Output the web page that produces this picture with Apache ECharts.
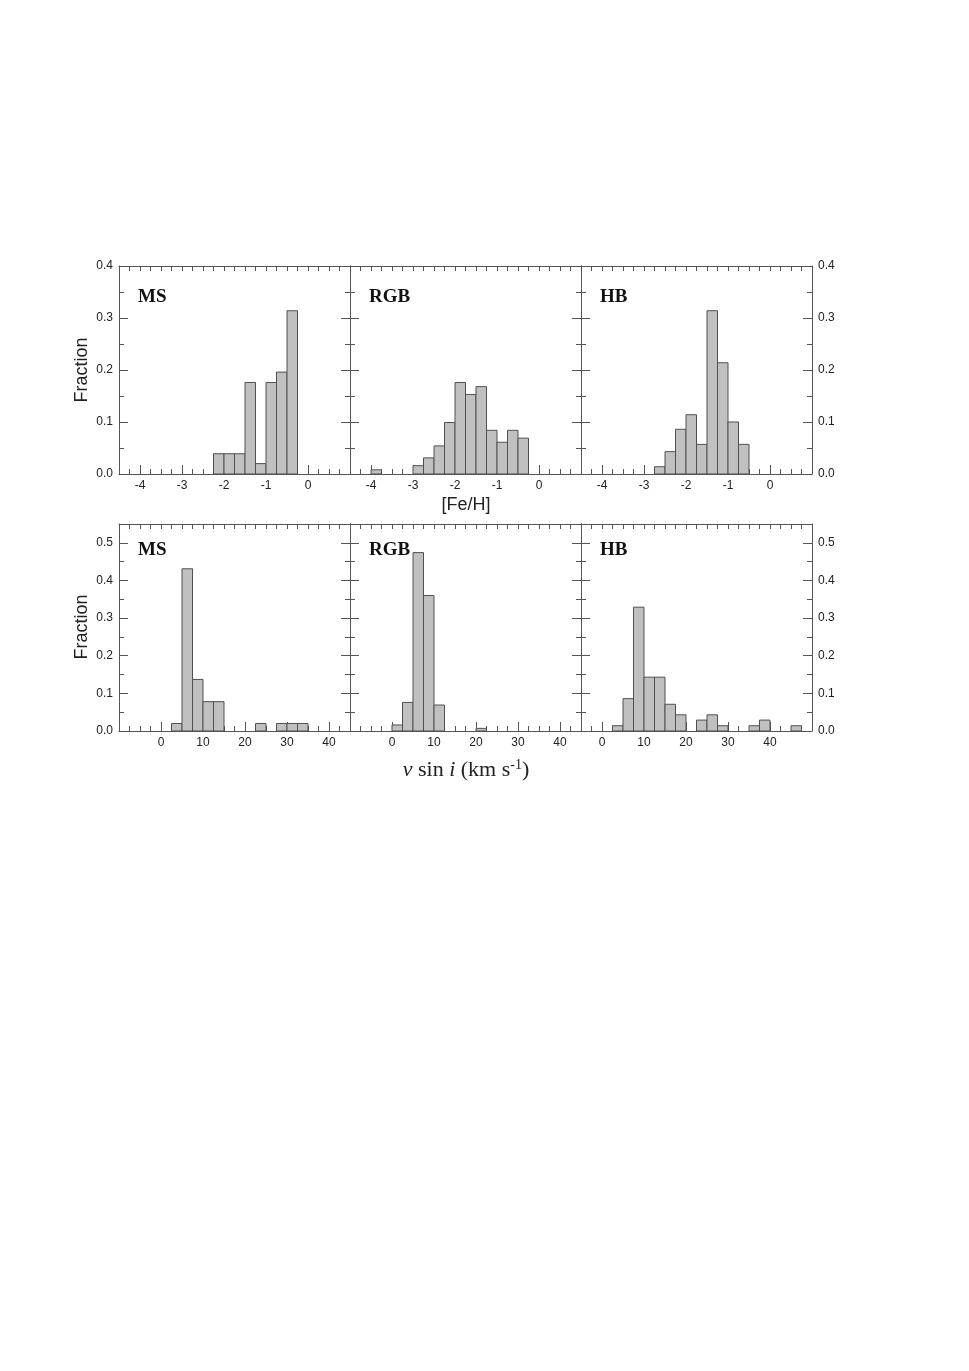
<!DOCTYPE html>
<html>
<head>
<meta charset="utf-8">
<script src="https://cdn.jsdelivr.net/npm/echarts@6/dist/echarts.min.js"></script>
<style>
  html, body { margin: 0; background: #fff; }
  #main { width: 969px; height: 1371px; }
</style>
</head>
<body>
<div id="main"></div>
<script>
// bin widths
const feBin = 0.25;
const vBin = 2.5;

// [Fe/H] histograms (left edge of each bin, fraction)
const feMSStart = [-2.25, -2.0, -1.75, -1.5, -1.25, -1.0, -0.75, -0.5];
const feMS = [0.039, 0.039, 0.039, 0.176, 0.020, 0.176, 0.196, 0.314];
const feRGBStart = [-4.0, -3.0, -2.75, -2.5, -2.25, -2.0, -1.75, -1.5, -1.25, -1.0, -0.75, -0.5];
const feRGB = [0.008, 0.016, 0.031, 0.054, 0.099, 0.176, 0.153, 0.168, 0.084, 0.061, 0.084, 0.069];
const feHBStart = [-2.75, -2.5, -2.25, -2.0, -1.75, -1.5, -1.25, -1.0, -0.75];
const feHB = [0.014, 0.043, 0.086, 0.114, 0.057, 0.314, 0.214, 0.100, 0.057];

// v sin i histograms
const vMSStart = [2.5, 5, 7.5, 10, 12.5, 22.5, 27.5, 30, 32.5];
const vMS = [0.020, 0.431, 0.137, 0.078, 0.078, 0.020, 0.020, 0.020, 0.020];
const vRGBStart = [0, 2.5, 5, 7.5, 10, 20];
const vRGB = [0.016, 0.076, 0.474, 0.360, 0.069, 0.007];
const vHBStart = [2.5, 5, 7.5, 10, 12.5, 15, 17.5, 22.5, 25, 27.5, 35, 37.5, 45];
const vHB = [0.014, 0.086, 0.329, 0.143, 0.143, 0.071, 0.043, 0.029, 0.043, 0.014, 0.014, 0.029, 0.014];

// tick labels
const feTickLabels = [-4, -3, -2, -1, 0];
const vTickLabels = [0, 10, 20, 30, 40];
const feFracLabels = [0, 0.1, 0.2, 0.3, 0.4];
const vFracLabels = [0, 0.1, 0.2, 0.3, 0.4, 0.5];

const lineCol = '#555';
const textCol = '#222';
const sans = 'Liberation Sans, Arial, sans-serif';

function steps(a, b, s) {
  let out = [];
  for (let v = a; v <= b + 1e-9; v += s) out.push(Math.round(v * 1000) / 1000);
  return out;
}

const panels = [
  { left: 119, top: 266, h: 208, xmin: -4.5, xmax: 1, ymax: 0.4, bin: feBin, starts: feMSStart, vals: feMS, xl: feTickLabels, yl: feFracLabels, xs: 0.25, name: 'MS' },
  { left: 350, top: 266, h: 208, xmin: -4.5, xmax: 1, ymax: 0.4, bin: feBin, starts: feRGBStart, vals: feRGB, xl: feTickLabels, yl: feFracLabels, xs: 0.25, name: 'RGB' },
  { left: 581, top: 266, h: 208, xmin: -4.5, xmax: 1, ymax: 0.4, bin: feBin, starts: feHBStart, vals: feHB, xl: feTickLabels, yl: feFracLabels, xs: 0.25, name: 'HB' },
  { left: 119, top: 524, h: 207, xmin: -10, xmax: 45, ymax: 0.55, bin: vBin, starts: vMSStart, vals: vMS, xl: vTickLabels, yl: vFracLabels, xs: 2.5, name: 'MS' },
  { left: 350, top: 524, h: 207, xmin: -10, xmax: 45, ymax: 0.55, bin: vBin, starts: vRGBStart, vals: vRGB, xl: vTickLabels, yl: vFracLabels, xs: 2.5, name: 'RGB' },
  { left: 581, top: 524, h: 207, xmin: -5, xmax: 50, ymax: 0.55, bin: vBin, starts: vHBStart, vals: vHB, xl: vTickLabels, yl: vFracLabels, xs: 2.5, name: 'HB' }
];

let grid = [], xAxis = [], yAxis = [], series = [], graphic = [];

panels.forEach((p, i) => {
  grid.push({ left: p.left, top: p.top, width: 231, height: p.h });
  const xMinor = steps(p.xmin + p.xs, p.xmax - p.xs / 2, p.xs);
  const yMinor = steps(0.05, p.ymax - 0.01, 0.05);
  const base = { type: 'value', gridIndex: i, min: p.xmin, max: p.xmax, splitLine: { show: false } };
  const lab = { color: textCol, fontFamily: sans, fontSize: 12 };

  // x axes: bottom (minor + labels), bottom (major), top
  xAxis.push(Object.assign({}, base, {
    position: 'bottom',
    axisLine: { show: true, onZero: false, lineStyle: { color: lineCol, width: 1 } },
    axisTick: { show: true, inside: true, length: 5, customValues: xMinor, lineStyle: { color: lineCol } },
    axisLabel: Object.assign({ show: true, customValues: p.xl, margin: 6, formatter: v => String(v) }, lab)
  }));
  xAxis.push(Object.assign({}, base, {
    position: 'bottom',
    axisLine: { show: false, onZero: false },
    axisTick: { show: true, inside: true, length: 9, customValues: p.xl, lineStyle: { color: lineCol } },
    axisLabel: { show: false }
  }));
  xAxis.push(Object.assign({}, base, {
    position: 'top',
    axisLine: { show: true, onZero: false, lineStyle: { color: lineCol, width: 1 } },
    axisTick: { show: true, inside: true, length: 5, customValues: xMinor, lineStyle: { color: lineCol } },
    axisLabel: { show: false }
  }));

  // y axes: left (minor), left (major), right (minor), right (major)
  const ybase = { type: 'value', gridIndex: i, min: 0, max: p.ymax, splitLine: { show: false } };
  const col = i % 3;
  ['left', 'right'].forEach(pos => {
    const showLab = (pos === 'left' && col === 0) || (pos === 'right' && col === 2);
    yAxis.push(Object.assign({}, ybase, {
      position: pos,
      axisLine: { show: true, onZero: false, lineStyle: { color: lineCol, width: 1 } },
      axisTick: { show: true, inside: true, length: 5, customValues: yMinor, lineStyle: { color: lineCol } },
      axisLabel: Object.assign({ show: showLab, customValues: p.yl, margin: 6, formatter: v => v.toFixed(1) }, lab)
    }));
    yAxis.push(Object.assign({}, ybase, {
      position: pos,
      axisLine: { show: false, onZero: false },
      axisTick: { show: true, inside: true, length: 9, customValues: p.yl, lineStyle: { color: lineCol } },
      axisLabel: { show: false }
    }));
  });

  series.push({
    type: 'custom',
    xAxisIndex: 3 * i,
    yAxisIndex: 4 * i,
    data: p.starts.map((s, k) => [s, s + p.bin, p.vals[k]]),
    renderItem: function (params, api) {
      const a = api.coord([api.value(0), api.value(2)]);
      const b = api.coord([api.value(1), 0]);
      return {
        type: 'rect',
        shape: { x: a[0], y: a[1], width: b[0] - a[0], height: b[1] - a[1] },
        style: { fill: '#c0c0c0', stroke: '#505050', lineWidth: 1 }
      };
    },
    silent: true
  });

  graphic.push({
    type: 'text', x: p.left + 19, y: p.top + (p.top < 400 ? 31 : 26),
    style: { text: p.name, font: 'bold 19px "Liberation Serif", "Times New Roman", serif', fill: '#111', align: 'left', verticalAlign: 'middle' }
  });
});

graphic.push(
  { type: 'text', x: 82, y: 370, rotation: Math.PI / 2,
    style: { text: 'Fraction', font: '18px ' + sans, fill: textCol, align: 'center', verticalAlign: 'middle' } },
  { type: 'text', x: 82, y: 627, rotation: Math.PI / 2,
    style: { text: 'Fraction', font: '18px ' + sans, fill: textCol, align: 'center', verticalAlign: 'middle' } },
  { type: 'text', x: 466, y: 505,
    style: { text: '[Fe/H]', font: '18px ' + sans, fill: textCol, align: 'center', verticalAlign: 'middle' } },
  { type: 'text', x: 466, y: 770,
    style: {
      text: '{it|v} sin {it|i} (km s{sup|-1})',
      font: '22px "Liberation Serif", "Times New Roman", serif', fill: textCol,
      align: 'center', verticalAlign: 'middle',
      rich: {
        it: { fontStyle: 'italic', fontSize: 22, fontFamily: 'Liberation Serif' },
        sup: { fontSize: 14, fontFamily: 'Liberation Serif', verticalAlign: 'top', padding: [0, 0, 10, 0] }
      }
    } }
);

const chart = echarts.init(document.getElementById('main'));
chart.setOption({
  backgroundColor: '#fff',
  animation: false,
  grid: grid,
  xAxis: xAxis,
  yAxis: yAxis,
  series: series,
  graphic: graphic
});
</script>
</body>
</html>
